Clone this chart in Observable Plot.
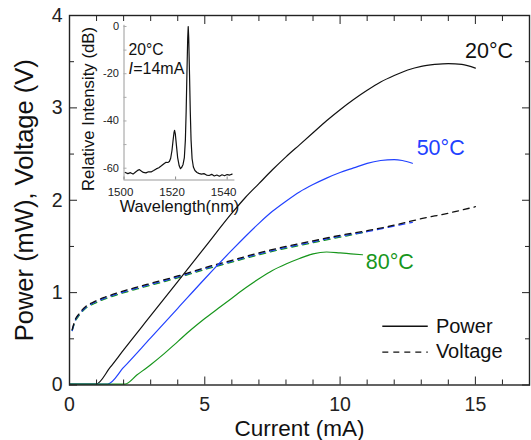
<!DOCTYPE html>
<html><head><meta charset="utf-8">
<script src="https://cdn.jsdelivr.net/npm/d3@7"></script>
<script src="https://cdn.jsdelivr.net/npm/@observablehq/plot@0.6"></script>
<style>
body{margin:0;background:#fff;}
#wrap{position:relative;width:531px;height:440px;}
#wrap svg{position:absolute;left:0;top:0;}
</style></head><body><div id="wrap"></div>
<script>
// ---- Main chart data: L-I (power) curves ----
const powerCurrent20 = [0, 0.5, 0.98, 1.5, 2, 3, 4, 5, 6, 6.5, 7, 7.5, 8, 8.5, 9, 9.5, 10, 10.5, 11, 11.5, 12, 12.5, 13, 13.5, 14, 14.5, 15];
const power20        = [0.01, 0.01, 0.01, 0.19, 0.38, 0.75, 1.12, 1.49, 1.86, 2.03, 2.18, 2.33, 2.47, 2.60, 2.73, 2.86, 2.98, 3.09, 3.19, 3.28, 3.35, 3.41, 3.45, 3.47, 3.48, 3.47, 3.43];
const powerCurrent50 = [0, 0.7, 1.41, 2, 3, 4, 5, 6, 7, 7.5, 8, 8.5, 9, 9.5, 10, 10.5, 11, 11.5, 12, 12.3, 12.67];
const power50        = [0.01, 0.01, 0.01, 0.19, 0.51, 0.83, 1.15, 1.46, 1.75, 1.88, 1.99, 2.09, 2.17, 2.24, 2.30, 2.35, 2.40, 2.43, 2.44, 2.43, 2.40];
const powerCurrent80 = [0, 1, 2.05, 2.5, 3, 3.5, 4, 4.5, 5, 5.5, 6, 6.5, 7, 7.5, 8, 8.5, 9, 9.5, 10, 10.4, 10.83];
const power80        = [0.01, 0.01, 0.01, 0.11, 0.22, 0.34, 0.47, 0.60, 0.72, 0.83, 0.94, 1.05, 1.15, 1.24, 1.31, 1.37, 1.42, 1.44, 1.43, 1.42, 1.41];

// ---- Main chart data: I-V (voltage) curves ----
const voltageCurrent20 = [0.1, 0.2, 0.35, 0.6, 0.9, 1.3, 1.8, 2.5, 3, 4, 5, 6, 7, 8, 9, 10, 11, 12, 13, 14, 15];
const voltage20        = [0.60, 0.70, 0.77, 0.85, 0.90, 0.95, 1.00, 1.06, 1.10, 1.18, 1.27, 1.35, 1.43, 1.50, 1.56, 1.62, 1.67, 1.73, 1.80, 1.86, 1.93];
const voltageCurrent50 = [0.1, 0.2, 0.35, 0.6, 0.9, 1.3, 1.8, 2.5, 3, 4, 5, 6, 7, 8, 9, 10, 11, 12, 12.67];
const voltage50        = [0.59, 0.69, 0.76, 0.84, 0.89, 0.94, 0.99, 1.05, 1.09, 1.17, 1.26, 1.34, 1.42, 1.49, 1.55, 1.61, 1.66, 1.72, 1.76];
const voltageCurrent80 = [0.1, 0.2, 0.35, 0.6, 0.9, 1.3, 1.8, 2.5, 3, 4, 5, 6, 7, 8, 9, 10, 10.83];
const voltage80        = [0.59, 0.68, 0.75, 0.83, 0.88, 0.93, 0.98, 1.04, 1.08, 1.16, 1.25, 1.33, 1.41, 1.48, 1.54, 1.60, 1.65];

// ---- Series labels ----
const temperatures = ["20°C", "50°C", "80°C"];
const labelCurrent = [14.62, 12.83, 10.95];
const labelLevel   = [3.54, 2.49, 1.257];

// ---- Axes ----
const xMajorTicks = [0, 5, 10, 15];
const xMinorTicks = [1, 2, 3, 4, 6, 7, 8, 9, 11, 12, 13, 14, 16];
const yMajorTicks = [0, 1, 2, 3, 4];
const yMinorTicks = [0.5, 1.5, 2.5, 3.5];
const xDomain = [0, 17];
const yDomain = [0, 4];
const xTitle = "Current (mA)";
const yTitle = "Power (mW), Voltage (V)";

// ---- Legend ----
const legendNames = ["Power", "Voltage"];
const legendLevel = [0.636, 0.355];
const legendTextLevel = [0.568, 0.297];
const legendX = [11.56, 13.24, 13.54];

// ---- Inset: emission spectrum ----
const wavelength = [1500.5, 1501.5, 1502.5, 1503.5, 1504.5, 1505.5, 1506.0, 1506.8, 1507.5, 1508.5, 1509.5, 1510.5, 1511.5, 1512.5, 1513.5, 1514.5, 1515.5, 1516.3, 1517.0, 1517.6, 1518.1, 1518.6, 1519.0, 1519.4, 1519.6, 1519.9, 1520.3, 1520.8, 1521.4, 1521.9, 1522.4, 1522.9, 1523.4, 1523.8, 1524.1, 1524.4, 1524.7, 1524.9, 1525.1, 1525.4, 1525.7, 1526.0, 1526.4, 1526.9, 1527.5, 1528.3, 1529, 1530, 1531, 1532, 1533, 1534, 1535, 1536, 1537, 1538, 1539, 1540, 1541, 1541.9];
const intensity  = [-61.8, -62.3, -61.9, -62.5, -61.6, -60.8, -60.6, -61.3, -61.8, -62.0, -61.5, -61.6, -61.0, -60.3, -59.8, -59.0, -58.1, -57.5, -57.6, -57.2, -55.8, -52.5, -48.5, -44.8, -44.0, -45.5, -50.0, -55.5, -59.0, -60.2, -59.6, -58.4, -55.5, -48.0, -36.0, -20.0, -5.0, 0.0, -5.0, -20.0, -36.0, -48.0, -56.0, -59.5, -61.0, -61.8, -62.2, -62.5, -62.3, -62.9, -63.1, -62.6, -63.3, -62.9, -63.4, -62.8, -63.2, -62.7, -62.9, -62.5];
const insetXDomain = [1500, 1543];
const insetYDomain = [-65, 0.5];
const insetXTicks = [1500, 1520, 1540];
const insetYTicks = [0, -20, -40, -60];
const insetYMinor = [-10, -30, -50];
const insetXTitle = "Wavelength(nm)";
const insetYTitle = "Relative Intensity (dB)";
const insetNote1 = "20°C";
const insetNoteI = "I";
const insetNote2 = "=14mA";

// ---- styles ----
const font = "'Liberation Sans', Arial, Helvetica, sans-serif";
const colors = ["#111111", "#2141ff", "#17961c"];

const rows = (xs, ys) => xs.map((x, i) => ({x, y: ys[i]}));
const powerSets = [rows(powerCurrent20, power20), rows(powerCurrent50, power50), rows(powerCurrent80, power80)];
const voltageSets = [rows(voltageCurrent20, voltage20), rows(voltageCurrent50, voltage50), rows(voltageCurrent80, voltage80)];

const marks = [];
// voltage (dashed): green, blue, then black on top
[2, 1, 0].forEach(k => marks.push(Plot.line(voltageSets[k], {x: "x", y: "y", stroke: colors[k], strokeWidth: 1.3, strokeDasharray: "6,5", curve: "monotone-x"})));
// power (solid)
[0, 1, 2].forEach(k => marks.push(Plot.line(powerSets[k], {x: "x", y: "y", stroke: colors[k], strokeWidth: 1.2, curve: "monotone-x"})));
// temperature labels
temperatures.forEach((t, k) => marks.push(Plot.text([t], {x: [labelCurrent[k]], y: [labelLevel[k]], text: d => d, fill: colors[k], fontSize: 21.5, textAnchor: "start", lineAnchor: "bottom"})));
// legend
marks.push(Plot.link([0], {x1: () => legendX[0], x2: () => legendX[1], y1: () => legendLevel[0], y2: () => legendLevel[0], stroke: "#111", strokeWidth: 1.3}));
marks.push(Plot.link([0], {x1: () => legendX[0], x2: () => legendX[1], y1: () => legendLevel[1], y2: () => legendLevel[1], stroke: "#111", strokeWidth: 1.3, strokeDasharray: "6,5"}));
legendNames.forEach((n, k) => marks.push(Plot.text([n], {x: () => legendX[2], y: () => legendTextLevel[k], text: d => d, fill: "#111", fontSize: 20, textAnchor: "start", lineAnchor: "bottom"})));

// frame + inward ticks on all four sides
marks.push(
  Plot.axisX({anchor: "bottom", ticks: xMajorTicks, tickSize: 8, dy: -8, tickFormat: () => "", label: null}),
  Plot.axisX({anchor: "bottom", ticks: xMinorTicks, tickSize: 5, dy: -5, tickFormat: () => "", label: null}),
  Plot.axisX({anchor: "top", ticks: xMajorTicks, tickSize: 8, dy: 8, tickFormat: () => "", label: null}),
  Plot.axisX({anchor: "top", ticks: xMinorTicks, tickSize: 5, dy: 5, tickFormat: () => "", label: null}),
  Plot.axisY({anchor: "left", ticks: yMajorTicks, tickSize: 8, dx: 8, tickFormat: () => "", label: null}),
  Plot.axisY({anchor: "left", ticks: yMinorTicks, tickSize: 5, dx: 5, tickFormat: () => "", label: null}),
  Plot.axisY({anchor: "right", ticks: yMajorTicks, tickSize: 8, dx: -8, tickFormat: () => "", label: null}),
  Plot.axisY({anchor: "right", ticks: yMinorTicks, tickSize: 5, dx: -5, tickFormat: () => "", label: null}),
  Plot.axisX({anchor: "bottom", ticks: xMajorTicks, tickSize: 0, tickPadding: 12.4, fontSize: 19.5, tickFormat: d => String(d), label: null}),
  Plot.axisY({anchor: "left", ticks: yMajorTicks, tickSize: 0, tickPadding: 7, fontSize: 19.5, tickFormat: d => String(d), label: null}),
  Plot.frame({stroke: "#222", strokeWidth: 1.4}),
  Plot.text([xTitle], {frameAnchor: "bottom", dy: 50.5, textAnchor: "middle", lineAnchor: "bottom", fontSize: 22.5, fill: "#111"}),
  Plot.text([yTitle], {frameAnchor: "left", dx: -37, rotate: -90, textAnchor: "middle", lineAnchor: "bottom", fontSize: 25.5, fill: "#111"})
);

const main = Plot.plot({
  width: 531, height: 440,
  marginLeft: 69, marginRight: 2, marginTop: 15, marginBottom: 55.5,
  x: {domain: xDomain, label: null},
  y: {domain: yDomain, label: null},
  style: {fontFamily: font, background: "white", overflow: "visible", color: "#222"},
  marks
});

const spectrum = rows(wavelength, intensity);
const inset = Plot.plot({
  width: 260, height: 220,
  marginLeft: 123.5, marginRight: 25.6, marginTop: 24.8, marginBottom: 40.5,
  x: {domain: insetXDomain, label: null},
  y: {domain: insetYDomain, label: null},
  style: {fontFamily: font, background: "transparent", overflow: "visible", color: "#222"},
  marks: [
    Plot.ruleX([insetXDomain[0]], {stroke: "#9a9a9a", strokeWidth: 1}),
    Plot.ruleY([insetYDomain[0]], {stroke: "#9a9a9a", strokeWidth: 1}),
    Plot.axisX({anchor: "bottom", ticks: insetXTicks, tickSize: 3, dy: -3, stroke: "#888", tickFormat: () => "", label: null}),
    Plot.axisY({anchor: "left", ticks: insetYTicks.concat(insetYMinor), tickSize: 3, dx: 3, stroke: "#aaa", tickFormat: () => "", label: null}),
    Plot.axisX({anchor: "bottom", ticks: insetXTicks, tickSize: 0, tickPadding: 7.5, dx: -3.5, fontSize: 11.5, fill: "#222", tickFormat: d => String(d), label: null}),
    Plot.axisY({anchor: "left", ticks: insetYTicks, tickSize: 0, tickPadding: 5, fontSize: 11, fill: "#222", tickFormat: d => String(d), label: null}),
    Plot.line(spectrum, {x: "x", y: "y", stroke: "#111", strokeWidth: 1.2}),
    Plot.text([insetXTitle], {frameAnchor: "bottom", dy: 32.2, textAnchor: "middle", lineAnchor: "bottom", fontSize: 16.4, fill: "#111"}),
    Plot.text([insetYTitle], {frameAnchor: "left", dx: -30.5, dy: 6.3, rotate: -90, textAnchor: "middle", lineAnchor: "bottom", fontSize: 16.8, fill: "#111"}),
    Plot.text([insetNote1], {frameAnchor: "top-left", dx: 4.5, dy: 29.5, textAnchor: "start", lineAnchor: "bottom", fontSize: 15.7, fill: "#111"}),
    Plot.text([insetNoteI], {frameAnchor: "top-left", dx: 4.5, dy: 48.5, textAnchor: "start", lineAnchor: "bottom", fontSize: 16, fontStyle: "italic", fill: "#111"}),
    Plot.text([insetNote2], {frameAnchor: "top-left", dx: 9.2, dy: 48.5, textAnchor: "start", lineAnchor: "bottom", fontSize: 16, fill: "#111"})
  ]
});

const wrap = document.getElementById("wrap");
wrap.appendChild(main);
wrap.appendChild(inset);
</script></body></html>
